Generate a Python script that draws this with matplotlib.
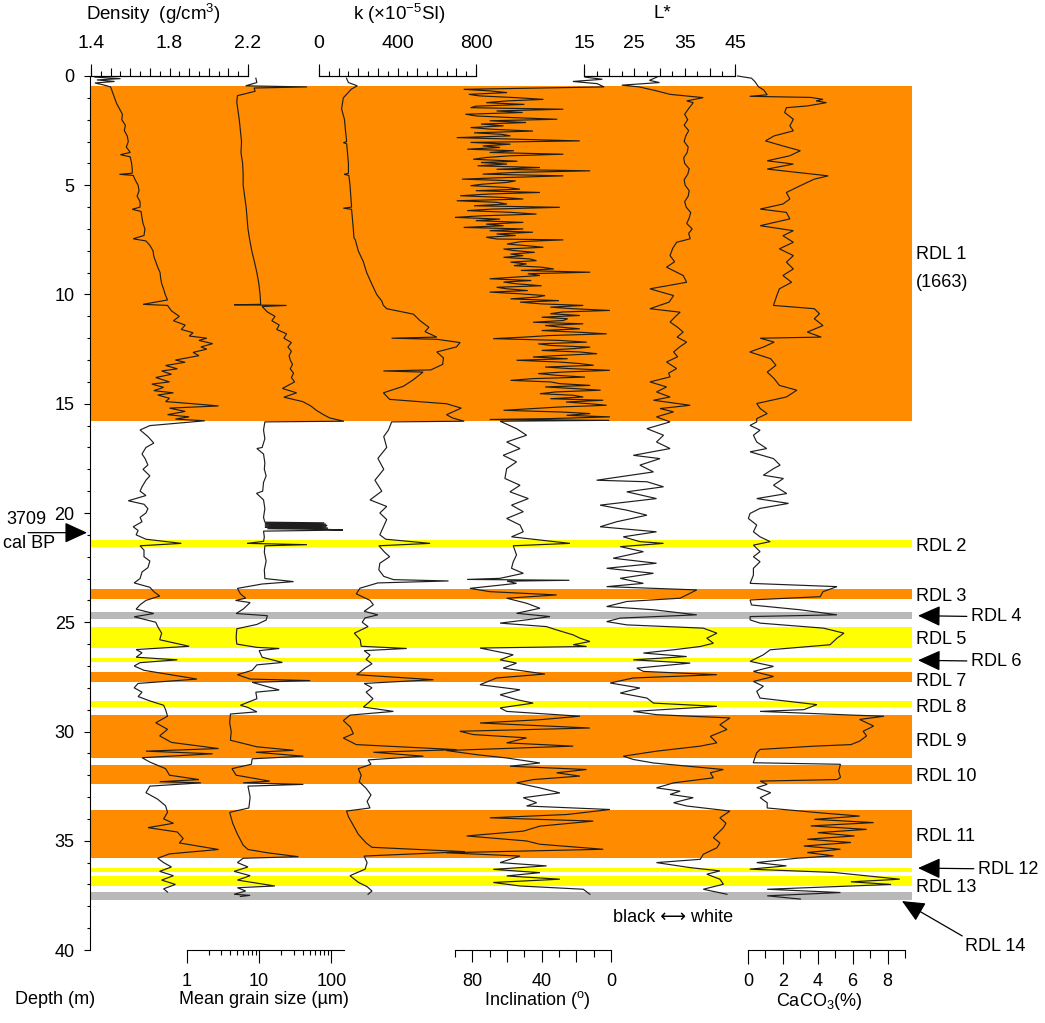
import numpy as np
import matplotlib
matplotlib.use('Agg')
import matplotlib.pyplot as plt
from matplotlib.ticker import MultipleLocator, FixedLocator, FuncFormatter, NullFormatter

plt.rcParams['font.family'] = ['Liberation Sans', 'DejaVu Sans']
plt.rcParams['mathtext.fontset'] = 'custom'
plt.rcParams['mathtext.rm'] = 'Liberation Sans'
plt.rcParams['mathtext.it'] = 'Liberation Sans:italic'
plt.rcParams['mathtext.bf'] = 'Liberation Sans:bold'

# ___ data: (depth m, value) ___
density = [
    (0.05, 1.42), (0.12, 1.55), (0.18, 1.43), (0.25, 1.52), (0.32, 1.42), (0.40, 1.46),
    (0.5, 1.50), (0.75, 1.51), (1.0, 1.52), (1.25, 1.53), (1.5, 1.545), (1.75, 1.56),
    (2.0, 1.557), (2.25, 1.575), (2.5, 1.57), (2.75, 1.585), (3.0, 1.59), (3.25, 1.58),
    (3.5, 1.60), (3.6, 1.55), (3.7, 1.60), (4.0, 1.607), (4.25, 1.61), (4.45, 1.61),
    (4.5, 1.545), (4.55, 1.615), (4.75, 1.625), (5.0, 1.64), (5.25, 1.645), (5.5, 1.635),
    (5.75, 1.65), (6.0, 1.65), (6.1, 1.61), (6.2, 1.655), (6.5, 1.66), (6.75, 1.665),
    (7.0, 1.675), (7.3, 1.67), (7.45, 1.615), (7.55, 1.68), (7.75, 1.70), (8.0, 1.716),
    (8.25, 1.72), (8.5, 1.73), (8.75, 1.74), (9.0, 1.752), (9.25, 1.755), (9.5, 1.76),
    (9.75, 1.77), (10.0, 1.778), (10.25, 1.79), (10.45, 1.665), (10.5, 1.79), (10.75, 1.81),
    (11.0, 1.85), (11.2, 1.82), (11.4, 1.88), (11.6, 1.86), (11.75, 1.92), (11.9, 1.90),
    (12.0, 1.99), (12.1, 1.95), (12.25, 2.02), (12.4, 1.96), (12.5, 1.99), (12.65, 1.92),
    (12.8, 1.95), (13.0, 1.83), (13.1, 1.88), (13.25, 1.78), (13.4, 1.84), (13.5, 1.76),
    (13.65, 1.81), (13.8, 1.73), (14.0, 1.80), (14.1, 1.71), (14.25, 1.77), (14.4, 1.72),
    (14.5, 1.82), (14.6, 1.74), (14.75, 1.80), (14.9, 1.78), (15.0, 1.92), (15.1, 2.05),
    (15.2, 1.80), (15.35, 1.88), (15.5, 1.79), (15.6, 1.90), (15.7, 1.83), (15.78, 1.98),
    (16.0, 1.70), (16.2, 1.65), (16.5, 1.69), (16.8, 1.72), (17.0, 1.68), (17.3, 1.66),
    (17.5, 1.675), (17.8, 1.69), (18.0, 1.665), (18.3, 1.70), (18.5, 1.68), (18.8, 1.66),
    (19.0, 1.65), (19.2, 1.68), (19.44, 1.59), (19.6, 1.67), (19.8, 1.69), (20.0, 1.68),
    (20.2, 1.65), (20.4, 1.66), (20.63, 1.615), (20.8, 1.64), (21.0, 1.63), (21.2, 1.68),
    (21.39, 1.86), (21.5, 1.65), (21.7, 1.67), (22.0, 1.67), (22.2, 1.70), (22.5, 1.69),
    (22.7, 1.66), (23.0, 1.65), (23.2, 1.62), (23.4, 1.70), (23.6, 1.72), (23.8, 1.75),
    (24.0, 1.68), (24.2, 1.65), (24.4, 1.63), (24.6, 1.72), (24.75, 1.62), (25.0, 1.73),
    (25.2, 1.74), (25.5, 1.76), (25.8, 1.75), (26.1, 1.90), (26.25, 1.63), (26.4, 1.66),
    (26.6, 1.63), (26.72, 1.84), (26.85, 1.65), (27.0, 1.62), (27.2, 1.67), (27.6, 1.94),
    (27.8, 1.64), (28.0, 1.62), (28.2, 1.66), (28.4, 1.64), (28.6, 1.70), (28.8, 1.77),
    (29.0, 1.78), (29.3, 1.79), (29.6, 1.73), (29.9, 1.79), (30.2, 1.75), (30.5, 1.81),
    (30.78, 2.05), (30.9, 1.68), (31.02, 2.02), (31.2, 1.66), (31.4, 1.70), (31.7, 1.78),
    (32.0, 1.80), (32.2, 1.95), (32.3, 1.75), (32.35, 1.96), (32.5, 1.70), (32.8, 1.68),
    (33.1, 1.74), (33.4, 1.78), (33.7, 1.79), (34.0, 1.77), (34.2, 1.82), (34.4, 1.69),
    (34.6, 1.84), (34.9, 1.87), (35.1, 1.85), (35.4, 2.05), (35.6, 1.80), (35.8, 1.74),
    (36.0, 1.77), (36.2, 1.81), (36.4, 1.75), (36.6, 1.82), (36.8, 1.76), (37.0, 1.83),
    (37.2, 1.77), (37.35, 1.79),
]

grain = [
    (0.1, 9.0), (0.3, 9.3), (0.45, 6.5), (0.5, 46), (0.55, 8.5), (0.7, 8.8), (0.9, 5.0),
    (1.2, 4.9), (1.6, 5.1), (2.0, 5.3), (2.5, 5.5), (3.0, 5.7), (3.5, 5.6), (4.0, 5.9),
    (4.5, 6.0), (5.0, 6.0), (5.5, 6.3), (6.0, 6.6), (6.5, 6.8), (7.0, 7.0), (7.5, 7.4),
    (8.0, 7.9), (8.5, 8.6), (9.0, 9.3), (9.5, 9.9), (10.0, 10.3), (10.45, 10.5),
    (10.47, 4.5), (10.5, 24), (10.55, 11.0), (10.8, 13), (11.0, 16.6), (11.2, 15),
    (11.4, 19), (11.6, 17.5), (11.8, 24), (12.0, 22), (12.2, 28), (12.4, 25), (12.6, 28),
    (12.8, 26), (13.0, 27), (13.2, 29), (13.4, 27), (13.6, 30), (13.8, 28), (14.0, 31),
    (14.3, 21), (14.5, 33), (14.7, 22), (14.9, 40), (15.1, 52), (15.3, 62), (15.5, 78),
    (15.65, 95), (15.75, 130), (15.8, 150), (15.83, 12), (16.2, 11.5), (16.6, 12),
    (17.0, 11), (17.05, 9.3), (17.3, 11.5), (17.7, 12), (18.0, 11.8), (18.3, 12.5),
    (18.6, 11.5), (19.0, 11.2), (19.1, 9.2), (19.4, 11.5), (19.8, 12), (20.2, 11.5),
    (20.42, 12), (20.45, 80), (20.48, 12), (20.51, 85), (20.54, 12), (20.57, 88),
    (20.6, 12), (20.63, 86), (20.66, 12), (20.69, 90), (20.72, 13), (20.75, 88),
    (20.78, 145), (20.83, 11.5), (21.1, 11.8), (21.3, 11.5), (21.39, 6.8), (21.45, 46),
    (21.5, 12), (21.8, 11.8), (22.2, 12.5), (22.6, 11.8), (23.0, 12), (23.14, 30),
    (23.25, 11), (23.45, 5.0), (23.7, 5.5), (23.9, 6.5), (24.0, 4.7), (24.1, 7.5),
    (24.4, 6.0), (24.6, 4.8), (24.7, 13), (24.9, 12.5), (25.1, 9.3), (25.3, 4.9),
    (25.7, 4.8), (26.0, 4.9), (26.15, 9.3), (26.2, 19), (26.3, 10), (26.6, 11),
    (26.84, 21), (26.95, 9.3), (27.2, 8), (27.4, 5.0), (27.6, 7.5), (27.67, 51),
    (27.75, 8), (28.1, 19), (28.2, 9.0), (28.5, 9.3), (28.8, 5.5), (28.9, 7), (29.1, 9.3),
    (29.2, 4.0), (29.6, 3.9), (30.0, 4.1), (30.4, 4.0), (30.7, 9.3), (30.86, 30),
    (30.95, 9), (31.13, 41), (31.25, 8), (31.5, 7.8), (31.7, 4.2), (32.0, 4.8),
    (32.27, 14), (32.35, 6), (32.42, 41), (32.5, 7), (33.0, 7.5), (33.5, 7.2), (33.7, 3.9),
    (34.2, 4.3), (34.7, 5), (35.2, 6), (35.4, 7), (35.55, 13), (35.73, 35), (35.8, 6),
    (36.0, 5), (36.2, 7), (36.4, 4.5), (36.6, 7.5), (36.8, 5), (37.07, 16.5), (37.15, 5),
    (37.3, 6.5), (37.45, 4.5), (37.5, 7.5), (37.55, 5.5),
]

suscept = [
    (0.1, 140), (0.3, 150), (0.45, 195), (0.6, 165), (1.0, 124), (1.5, 115), (2.0, 130),
    (2.5, 135), (3.0, 141), (3.05, 124), (3.1, 141), (3.5, 145), (4.0, 150), (4.45, 150),
    (4.5, 128), (4.55, 152), (5.0, 158), (5.5, 162), (6.0, 166), (6.05, 124), (6.1, 166),
    (6.5, 170), (7.0, 175), (7.4, 178), (7.5, 185), (8.0, 200), (8.5, 226), (9.0, 243),
    (9.5, 268), (10.0, 294), (10.3, 320), (10.5, 328), (10.65, 345), (10.9, 481),
    (11.2, 515), (11.5, 560), (11.7, 540), (11.95, 600), (12.0, 370), (12.05, 600),
    (12.2, 719), (12.4, 700), (12.63, 600), (12.9, 634), (13.2, 630), (13.45, 570),
    (13.5, 328), (13.55, 530), (13.9, 481), (14.2, 430), (14.5, 328), (14.8, 360),
    (15.0, 650), (15.2, 725), (15.5, 650), (15.65, 680), (15.75, 720), (15.8, 740),
    (15.83, 370), (16.2, 354), (16.5, 330), (17.0, 345), (17.5, 300), (18.0, 330),
    (18.5, 285), (19.0, 320), (19.4, 260), (19.7, 345), (20.0, 310), (20.3, 345),
    (20.6, 330), (21.0, 310), (21.2, 340), (21.39, 566), (21.5, 305), (21.8, 335),
    (22.0, 360), (22.3, 310), (22.6, 305), (22.9, 330), (23.05, 380), (23.11, 660),
    (23.2, 300), (23.44, 209), (23.7, 190), (24.0, 260), (24.2, 277), (24.5, 230),
    (24.66, 300), (24.8, 235), (25.0, 220), (25.2, 250), (25.5, 180), (25.8, 210),
    (26.1, 215), (26.2, 447), (26.3, 230), (26.5, 260), (26.7, 240), (26.9, 270),
    (27.1, 235), (27.4, 192), (27.63, 583), (27.8, 230), (28.0, 270), (28.2, 240),
    (28.5, 275), (28.7, 250), (28.88, 226), (29.08, 379), (29.25, 158), (29.5, 124),
    (29.8, 160), (30.1, 175), (30.3, 124), (30.6, 190), (30.83, 702), (30.95, 277),
    (31.13, 532), (31.3, 250), (31.5, 265), (31.7, 200), (32.0, 215), (32.3, 205),
    (32.6, 240), (32.9, 265), (33.2, 245), (33.5, 260), (33.64, 140), (33.9, 150),
    (34.3, 175), (34.7, 200), (35.1, 240), (35.3, 270), (35.5, 744), (35.7, 230),
    (36.0, 245), (36.3, 235), (36.6, 158), (36.9, 200), (37.1, 245), (37.3, 270),
    (37.45, 250),
]

inclination = [
    (0.05, 15), (0.15, 5), (0.25, 22), (0.35, 8), (0.5, 4), (0.61, 85), (0.68, 70),
    (0.76, 60), (0.84, 82), (0.91, 76), (0.99, 55), (1.07, 39), (1.14, 60), (1.22, 72),
    (1.3, 50), (1.38, 78), (1.45, 81), (1.52, 27.5), (1.6, 66), (1.67, 51), (1.75, 84),
    (1.83, 77.5), (1.9, 58), (1.98, 31), (2.05, 70), (2.13, 49), (2.2, 75), (2.28, 62),
    (2.36, 81), (2.44, 68), (2.52, 45), (2.6, 79), (2.67, 63), (2.74, 58), (2.82, 89),
    (2.9, 52), (2.97, 18), (3.04, 81), (3.12, 58), (3.2, 74), (3.27, 64), (3.35, 83),
    (3.42, 56), (3.5, 70), (3.58, 27.5), (3.65, 58), (3.73, 72), (3.81, 79.5), (3.9, 54),
    (3.96, 75), (4.03, 60), (4.11, 77), (4.19, 41), (4.27, 66), (4.34, 12), (4.41, 54.5),
    (4.49, 74), (4.57, 27.5), (4.65, 62), (4.72, 86), (4.8, 55), (4.87, 60), (4.95, 74),
    (5.02, 81), (5.1, 60), (5.18, 52.5), (5.25, 78), (5.33, 41), (5.4, 70), (5.48, 87),
    (5.56, 62), (5.63, 50.6), (5.71, 89), (5.78, 66), (5.86, 60), (5.94, 79), (6.01, 29.5),
    (6.09, 68), (6.16, 83), (6.24, 58), (6.32, 43), (6.4, 75), (6.47, 90), (6.55, 64),
    (6.62, 78), (6.70, 50.6), (6.78, 72), (6.85, 62), (6.93, 85), (7.00, 50.6), (7.08, 70),
    (7.15, 45), (7.23, 66), (7.3, 55), (7.38, 72), (7.46, 66), (7.50, 27.5), (7.58, 52),
    (7.69, 60), (7.77, 48), (7.84, 39), (7.92, 62), (7.99, 56), (8.07, 44), (8.15, 58),
    (8.22, 50.6), (8.3, 62), (8.37, 47), (8.45, 43), (8.52, 58), (8.60, 48.7), (8.68, 56),
    (8.75, 40), (8.83, 33), (8.9, 52), (8.98, 12), (9.05, 48), (9.13, 41), (9.2, 55),
    (9.28, 70), (9.36, 46), (9.43, 62), (9.51, 54.5), (9.6, 40), (9.67, 66), (9.74, 60),
    (9.82, 48), (9.89, 70), (9.97, 52), (10.05, 38), (10.12, 43), (10.2, 58), (10.28, 30),
    (10.35, 52.5), (10.43, 40), (10.50, 16), (10.58, 35), (10.65, 22), (10.73, 0.6),
    (10.8, 28), (10.88, 35), (10.96, 18), (11.04, 40), (11.11, 25), (11.19, 27.5),
    (11.27, 45), (11.34, 16), (11.42, 38), (11.49, 29.5), (11.57, 18), (11.65, 40),
    (11.72, 20), (11.80, 2.5), (11.88, 36), (11.95, 50), (12.02, 68), (12.1, 30),
    (12.18, 14), (12.26, 42), (12.33, 35), (12.41, 12), (12.48, 22), (12.56, 40),
    (12.63, 18), (12.71, 8), (12.79, 30), (12.86, 45), (12.94, 25), (13.01, 54.5),
    (13.09, 30), (13.16, 18), (13.24, 10), (13.32, 38), (13.39, 24), (13.47, 0.6),
    (13.55, 28), (13.62, 42), (13.70, 31), (13.78, 15), (13.85, 45), (13.93, 58),
    (14.0, 35), (14.08, 29.5), (14.16, 12), (14.23, 38), (14.31, 20), (14.38, 6),
    (14.46, 32), (14.54, 41), (14.61, 22), (14.69, 16), (14.77, 35), (14.84, 4.5),
    (14.92, 26), (15.0, 12), (15.07, 2.5), (15.15, 30), (15.22, 45), (15.30, 62),
    (15.38, 28), (15.45, 12), (15.53, 25.6), (15.60, 0.6), (15.68, 35), (15.72, 70),
    (15.76, 1), (15.8, 64), (16.14, 54.5), (16.44, 48.7), (16.75, 60.2), (17.05, 52.5),
    (17.36, 62.2), (17.66, 54.5), (17.97, 60.2), (18.42, 61.2), (18.73, 52.5), (19.03, 58.3),
    (19.34, 47.7), (19.64, 57.4), (19.94, 50.6), (20.25, 60.2), (20.55, 52.5), (20.86, 50.6),
    (21.09, 57.4), (21.39, 23.7), (21.5, 56.4), (21.92, 54.5), (22.23, 56.4), (22.53, 57.4),
    (22.76, 50.6), (22.99, 64), (23.04, 83), (23.08, 24), (23.12, 60), (23.22, 54.5),
    (23.45, 81.4), (23.6, 69.9), (23.75, 31.4), (23.9, 60.2), (24.13, 48.7), (24.36, 41),
    (24.59, 54.5), (24.74, 35.2), (24.89, 48.7), (25.04, 64), (25.2, 37.2), (25.35, 31.4),
    (25.58, 21.8), (25.73, 17.9), (25.88, 12.2), (26.03, 21.8), (26.11, 14.1), (26.18, 75.6),
    (26.49, 56.4), (26.72, 64), (26.87, 54.5), (27.1, 62.2), (27.37, 38.1), (27.55, 66),
    (27.86, 75.6), (28.09, 52.5), (28.32, 64), (28.54, 54.5), (28.7, 44.9), (28.92, 64),
    (29.08, 60.2), (29.3, 17.9), (29.46, 41), (29.61, 75.6), (29.84, 12.2), (29.99, 87.2),
    (30.14, 79.5), (30.29, 48.7), (30.52, 60.2), (30.67, 21.8), (30.87, 95), (31.06, 77.5),
    (31.21, 60.2), (31.44, 41), (31.59, 58.3), (31.74, 14.1), (31.89, 31.4), (32.04, 17.9),
    (32.2, 44.9), (32.35, 54.5), (32.58, 41), (32.81, 29.5), (33.03, 50.6), (33.26, 42.9),
    (33.41, 48.7), (33.57, 0.6), (33.8, 25.6), (33.95, 69.9), (34.1, 10.2), (34.33, 41),
    (34.56, 50.6), (34.78, 83.3), (35.01, 48.7), (35.16, 41), (35.39, 4.5), (35.55, 95),
    (35.7, 52.5), (36.0, 64), (36.15, 37.2), (36.31, 67.9), (36.46, 41), (36.61, 60.2),
    (36.76, 29.5), (36.91, 67.9), (37.07, 52.5), (37.22, 16), (37.45, 12.2),
]

lightness = [
    (0.05, 29.5), (0.2, 28), (0.3, 30), (0.42, 22.5), (0.5, 26), (0.68, 29.4), (0.84, 32.1),
    (0.99, 38.7), (1.14, 35.4), (1.22, 36.7), (1.52, 35.7), (1.75, 35.0), (2.0, 35.6),
    (2.25, 34.9), (2.5, 35.8), (2.75, 35.2), (3.0, 34.9), (3.25, 35.7), (3.5, 35.5),
    (3.75, 34.8), (4.0, 35.0), (4.25, 35.9), (4.5, 35.6), (4.75, 34.9), (5.0, 35.1),
    (5.25, 35.9), (5.5, 35.7), (5.75, 35.0), (6.0, 35.3), (6.25, 36.2), (6.5, 35.9),
    (6.75, 35.4), (7.0, 36.5), (7.2, 35.8), (7.45, 36.1), (7.61, 33.4), (7.9, 32.6),
    (8.22, 32.1), (8.5, 33.0), (8.75, 31.4), (9.13, 34.7), (9.44, 35.4), (9.74, 28.1),
    (10.05, 32.8), (10.35, 31.9), (10.65, 28.1), (10.81, 34.1), (11.0, 33.2), (11.26, 32.1),
    (11.5, 33.6), (11.72, 34.7), (11.95, 33.5), (12.18, 35.4), (12.4, 34.0), (12.63, 32.8),
    (12.85, 33.6), (13.09, 31.4), (13.39, 33.4), (13.6, 31.8), (13.77, 32.1), (14.0, 28.1),
    (14.23, 31.4), (14.46, 29.4), (14.69, 32.1), (14.84, 28.8), (15.07, 36.1), (15.22, 30.1),
    (15.37, 32.8), (15.6, 29.4), (15.83, 32.1), (16.14, 27.5), (16.44, 30.8), (16.75, 29.4),
    (17.05, 32.1), (17.36, 24.8), (17.51, 30.1), (17.81, 26.1), (18.12, 28.8), (18.5, 17.5),
    (18.57, 27.5), (18.8, 30.8), (19.03, 23.5), (19.34, 29.4), (19.64, 18.2), (19.87, 23.5),
    (20.1, 27.5), (20.4, 21.5), (20.63, 18.2), (20.86, 29.4), (21.09, 22.8), (21.31, 26.1),
    (21.39, 30.8), (21.54, 22.2), (21.77, 26.8), (22.07, 20.8), (22.3, 29.4), (22.53, 19.5),
    (22.76, 28.8), (22.99, 22.2), (23.22, 26.8), (23.37, 19.5), (23.52, 37.4), (23.75, 35.4),
    (23.9, 34.1), (24.05, 23.5), (24.28, 19.5), (24.43, 28.8), (24.66, 37.4), (24.81, 22.2),
    (24.97, 19.5), (25.12, 23.5), (25.27, 38.7), (25.5, 41.4), (25.73, 39.4), (25.96, 40.7),
    (26.11, 38.1), (26.26, 32.8), (26.41, 26.8), (26.57, 35.4), (26.72, 24.8), (26.87, 36.1),
    (27.1, 25.5), (27.25, 26.8), (27.4, 41.4), (27.55, 24.8), (27.78, 20.2), (28.01, 26.1),
    (28.24, 22.2), (28.47, 27.5), (28.7, 28.8), (28.85, 41.4), (29.08, 24.8), (29.23, 29.4),
    (29.38, 44.0), (29.69, 42.0), (29.91, 43.4), (30.22, 40.1), (30.52, 41.4), (30.67, 38.1),
    (30.9, 29.4), (31.13, 22.8), (31.28, 24.8), (31.44, 28.8), (31.74, 42.7), (31.89, 40.1),
    (32.12, 40.7), (32.35, 32.8), (32.58, 29.4), (32.73, 34.1), (32.88, 32.1), (33.03, 36.7),
    (33.26, 32.8), (33.41, 35.4), (33.64, 44.0), (33.95, 42.0), (34.2, 43.2), (34.4, 42.7),
    (34.65, 41.6), (34.86, 40.7), (35.1, 42.0), (35.32, 41.4), (35.62, 38.7), (35.85, 38.1),
    (36.0, 29.4), (36.23, 36.1), (36.38, 42.0), (36.53, 39.4), (36.76, 42.0), (36.99, 42.7),
    (37.22, 38.7), (37.45, 43.4),
]

caco3 = [
    (0.0, -0.6), (0.1, 0.2), (0.26, 0.4), (0.49, 0.6), (0.64, 0.9), (0.86, 1.1), (0.93, 0.1),
    (0.98, 3.6), (1.07, 4.3), (1.14, 3.9), (1.22, 4.5), (1.37, 3.4), (1.45, 2.2), (1.67, 2.1),
    (1.98, 2.6), (2.28, 2.4), (2.51, 2.6), (2.74, 1.5), (2.97, 1.0), (3.2, 2.0), (3.42, 3.0),
    (3.65, 2.4), (3.88, 1.1), (4.03, 2.6), (4.26, 1.1), (4.41, 2.8), (4.57, 4.6), (4.72, 3.8),
    (5.02, 3.0), (5.33, 2.2), (5.63, 2.4), (5.86, 2.0), (6.09, 0.7), (6.24, 2.2), (6.54, 2.4),
    (6.85, 0.7), (7.08, 2.6), (7.31, 2.0), (7.61, 2.6), (7.91, 1.8), (8.22, 2.6), (8.52, 2.2),
    (8.83, 2.6), (9.13, 2.0), (9.44, 2.5), (9.74, 1.8), (10.05, 1.65), (10.5, 1.46),
    (10.65, 3.8), (10.88, 4.1), (11.11, 3.8), (11.42, 4.3), (11.72, 3.4), (11.95, 4.2),
    (12.0, 0.7), (12.18, 1.5), (12.4, 0.9), (12.63, 0.1), (12.94, 1.3), (13.24, 1.6),
    (13.55, 1.1), (13.85, 1.5), (14.16, 1.8), (14.38, 2.8), (14.69, 2.2), (14.99, 0.5),
    (15.22, 0.7), (15.45, 1.1), (15.68, 0.5), (15.83, 0.5), (15.99, 0.12), (16.21, 0.69),
    (16.44, 0.31), (16.75, 0.5), (17.05, 1.07), (17.2, 0.12), (17.51, 1.46), (17.81, 1.84),
    (17.97, 1.46), (18.27, 0.88), (18.42, 2.03), (18.73, 1.46), (19.11, 2.22), (19.34, 0.5),
    (19.56, 2.32), (19.79, 0.69), (20.02, 0.12), (20.25, 0.02), (20.55, 0.5), (20.86, 0.31),
    (21.09, 0.69), (21.31, 1.27), (21.47, 0.31), (21.77, 0.69), (22.0, 0.31), (22.23, 0.69),
    (22.53, 0.31), (22.84, 0.31), (23.22, 0.12), (23.37, 5.1), (23.6, 4.3), (23.83, 4.14),
    (23.98, 0.12), (24.21, 0.2), (24.43, 3.0), (24.66, 5.1), (24.74, 0.12), (24.89, 0.12),
    (25.04, 0.69), (25.27, 4.33), (25.5, 5.5), (25.73, 5.1), (26.03, 4.7), (26.26, 1.27),
    (26.49, 0.88), (26.79, 0.12), (27.02, 1.46), (27.25, 0.31), (27.48, 1.46), (27.71, 0.31),
    (27.93, 0.88), (28.16, 0.5), (28.47, 0.69), (28.77, 3.95), (29.0, 3.2), (29.08, 0.69),
    (29.25, 6.0), (29.3, 7.8), (29.45, 6.4), (29.75, 7.2), (29.99, 6.6), (30.2, 6.8),
    (30.44, 6.4), (30.6, 5.9), (30.67, 3.8), (30.82, 0.7), (30.97, 0.5), (31.43, 0.3),
    (31.5, 5.3), (31.8, 5.2), (32.1, 5.3), (32.2, 5.1), (32.27, 0.7), (32.42, 1.1),
    (32.57, 0.5), (32.8, 1.3), (33.03, 0.7), (33.26, 1.1), (33.5, 1.1), (33.64, 3.0),
    (33.72, 4.1), (33.87, 6.4), (34.02, 3.8), (34.17, 7.2), (34.32, 3.6), (34.48, 6.8),
    (34.63, 4.0), (34.78, 6.1), (34.93, 3.4), (35.08, 5.9), (35.24, 3.2), (35.39, 5.3),
    (35.54, 3.4), (35.69, 4.9), (35.8, 2.8), (36.0, 0.5), (36.15, 2.2), (36.3, 0.1),
    (36.45, 4.9), (36.76, 8.7), (36.88, 5.9), (37.0, 8.2), (37.22, 1.1), (37.37, 5.3),
    (37.52, 1.1), (37.67, 3.0),
]

# layers: (top m, bottom m, colour, label, label depth, arrow?)
layers = [
    (0.45, 15.78, 'orange', None, None, False),
    (21.23, 21.57, 'yellow', 'RDL 2', 21.55, False),
    (23.48, 23.93, 'orange', 'RDL 3', 23.8, False),
    (24.53, 24.83, 'gray', 'RDL 4', 24.75, True),
    (25.24, 26.16, 'yellow', 'RDL 5', 25.8, False),
    (26.63, 26.83, 'yellow', 'RDL 6', 26.79, True),
    (27.27, 27.75, 'orange', 'RDL 7', 27.73, False),
    (28.62, 28.89, 'yellow', 'RDL 8', 28.92, False),
    (29.25, 31.2, 'orange', 'RDL 9', 30.44, False),
    (31.54, 32.4, 'orange', 'RDL 10', 32.04, False),
    (33.6, 35.81, 'orange', 'RDL 11', 34.81, False),
    (36.24, 36.45, 'yellow', 'RDL 12', 36.3, True),
    (36.6, 37.09, 'yellow', 'RDL 13', 37.12, False),
    (37.34, 37.7, 'gray', None, None, False),
]
colours = {'orange': '#FF8C00', 'yellow': '#FFFF00', 'gray': '#B9B9B9'}

# ___ figure, laid out in pixels ___
W, H = 1045, 1023
Y_TOP, Y_BOT = 76, 950
fig = plt.figure(figsize=(W / 100, H / 100), dpi=100)
LC = '#1e1e1e'
LW = 0.85


def rect(x0, x1):
    return [x0 / W, 1 - Y_BOT / H, (x1 - x0) / W, (Y_BOT - Y_TOP) / H]


def ftext(x, y, s, **kw):
    fig.text(x / W, 1 - y / H, s, **kw)


# background: layers + depth axis
ax0 = fig.add_axes(rect(90, 912))
ax0.set_xlim(0, 1)
ax0.set_ylim(40, 0)
for top, bot, c, lab, ly, arrow in layers:
    ax0.axhspan(top, bot, color=colours[c], lw=0)
for s in ['top', 'right', 'bottom']:
    ax0.spines[s].set_visible(False)
ax0.spines['left'].set_linewidth(0.8)
ax0.xaxis.set_visible(False)
ax0.yaxis.set_major_locator(MultipleLocator(5))
ax0.yaxis.set_minor_locator(MultipleLocator(1))
ax0.tick_params(axis='y', which='major', length=4, width=0.8, pad=7, labelsize=13)
ax0.tick_params(axis='y', which='minor', length=2.2, width=0.8)

tr = ax0.get_yaxis_transform()


def fx(px):
    return (px - 90) / 822


arrow_kw = dict(arrowstyle='-|>,head_length=0.7,head_width=0.32', color='black',
                lw=0.9, shrinkB=0, mutation_scale=20)

for top, bot, c, lab, ly, arrow in layers:
    if lab is None:
        continue
    if arrow:
        xt = 978 if lab == 'RDL 12' else 971
        ax0.annotate(lab, xy=(fx(918), ly - 0.05), xytext=(fx(xt), ly), xycoords=tr,
                     textcoords=tr, va='center', ha='left', fontsize=13,
                     arrowprops=dict(arrow_kw, shrinkA=1))
    else:
        ax0.text(fx(916), ly, lab, transform=tr, va='center', ha='left', fontsize=13)

ax0.text(fx(916), (255 - Y_TOP) / 21.85, 'RDL 1', transform=tr, va='center', ha='left', fontsize=13)
ax0.text(fx(916), (283 - Y_TOP) / 21.85, '(1663)', transform=tr, va='center', ha='left', fontsize=13)
ax0.annotate('RDL 14', xy=(fx(902), 37.76), xytext=(fx(965), 39.82), xycoords=tr,
             textcoords=tr, va='center', ha='left', fontsize=13,
             arrowprops=dict(arrow_kw, shrinkA=0, relpos=(0, 1)))
ax0.annotate('', xy=(fx(87), 20.9), xytext=(fx(28), 20.9), xycoords=tr, textcoords=tr,
             arrowprops=dict(arrow_kw, shrinkA=0))
ax0.annotate('3709', xy=(fx(26), (520 - Y_TOP) / 21.85), xycoords=tr, annotation_clip=False,
             ha='center', va='center', fontsize=13)
ax0.annotate('cal BP', xy=(fx(29), (543 - Y_TOP) / 21.85), xycoords=tr, annotation_clip=False,
             ha='center', va='center', fontsize=13)
ax0.annotate('black \u27f7 white', xy=(fx(673), 38.49), xycoords=tr, annotation_clip=False,
             ha='center', va='center', fontsize=13)


def track(x0, x1, lim, side, log=False):
    ax = fig.add_axes(rect(x0, x1))
    if log:
        ax.set_xscale('log')
    ax.set_xlim(*lim)
    ax.set_ylim(40, 0)
    ax.patch.set_visible(False)
    for s in ax.spines:
        ax.spines[s].set_visible(s == side)
    ax.spines[side].set_linewidth(0.8)
    ax.yaxis.set_visible(False)
    ax.xaxis.set_ticks_position(side)
    return ax


def only(labels, fmt):
    return FuncFormatter(lambda v, p: fmt.format(v) if any(abs(v - t) < 1e-6 for t in labels) else '')


def draw(ax, data):
    d, v = np.array(data).T
    ax.plot(v, d, color=LC, lw=LW, clip_on=False, solid_joinstyle='miter')


def top_scale(ax, major, minor, labels, fmt, ends):
    ax.xaxis.set_major_locator(MultipleLocator(major))
    ax.xaxis.set_minor_locator(MultipleLocator(minor))
    ax.xaxis.set_major_formatter(only(labels, fmt))
    ax.xaxis.set_minor_formatter(NullFormatter())
    ax.tick_params(axis='x', which='major', length=6, width=0.8, pad=11, labelsize=14)
    ax.tick_params(axis='x', which='minor', length=3.6, width=0.8)
    sec = ax.secondary_xaxis('top')
    sec.set_xticks(ends)
    sec.set_xticklabels([''] * len(ends))
    sec.tick_params(length=8.6, width=0.8)
    sec.spines['top'].set_linewidth(0.8)


ax_d = track(91, 248, (1.4, 2.2), 'top')
top_scale(ax_d, 0.1, 0.05, [1.4, 1.8, 2.2], '{:.1f}', [1.4, 2.2])
draw(ax_d, density)

ax_k = track(319, 476, (0, 800), 'top')
top_scale(ax_k, 100, 50, [0, 400, 800], '{:.0f}', [0, 800])
draw(ax_k, suscept)

ax_l = track(584, 735, (15, 45), 'top')
top_scale(ax_l, 5, 2.5, [15, 25, 35, 45], '{:.0f}', [15, 45])
draw(ax_l, lightness)

ax_g = track(187, 344, (1, 150), 'bottom', log=True)
ax_g.xaxis.set_major_locator(FixedLocator([1, 10, 100]))
ax_g.xaxis.set_minor_locator(FixedLocator([2, 3, 4, 5, 6, 7, 8, 9, 20, 30, 40, 50, 60, 70, 80, 90]))
ax_g.xaxis.set_major_formatter(FuncFormatter(lambda v, p: f'{v:.0f}'))
ax_g.xaxis.set_minor_formatter(NullFormatter())
ax_g.tick_params(axis='x', which='major', length=9.4, width=0.8, pad=7, labelsize=13)
ax_g.tick_params(axis='x', which='minor', length=3.6, width=0.8)
draw(ax_g, grain)

ax_i = track(455, 611, (90, 0), 'bottom')
ax_i.xaxis.set_major_locator(FixedLocator([0, 20, 40, 60, 80]))
ax_i.xaxis.set_minor_locator(FixedLocator([10, 30, 50, 70, 90]))
ax_i.xaxis.set_major_formatter(only([0, 40, 80], '{:.0f}'))
ax_i.tick_params(axis='x', which='major', length=8.6, width=0.8, pad=8, labelsize=13)
ax_i.tick_params(axis='x', which='minor', length=5, width=0.8)
draw(ax_i, inclination)

ax_c = track(748, 905, (0, 9), 'bottom')
ax_c.xaxis.set_major_locator(MultipleLocator(2))
ax_c.xaxis.set_minor_locator(MultipleLocator(1))
ax_c.xaxis.set_major_formatter(FuncFormatter(lambda v, p: f'{v:.0f}'))
ax_c.tick_params(axis='x', which='major', length=10, width=0.8, pad=6.5, labelsize=13)
ax_c.tick_params(axis='x', which='minor', length=5.8, width=0.8)
draw(ax_c, caco3)

# scale titles
ftext(86, 14, 'Density  (g/cm$^3$)', ha='left', va='center', fontsize=13.5)
ftext(400, 14, 'k (\u00d710$^{-5}$SI)', ha='center', va='center', fontsize=13.5)
ftext(662, 14, 'L*', ha='center', va='center', fontsize=13.5)
ftext(15, 1000, 'Depth (m)', ha='left', va='center', fontsize=13)
ftext(264, 1000, 'Mean grain size (\u00b5m)', ha='center', va='center', fontsize=13)
ftext(537, 1000, 'Inclination ($^{\\mathrm{o}}$)', ha='center', va='center', fontsize=13)
ftext(819, 1001, 'CaCO$_3$(%)', ha='center', va='center', fontsize=13)

fig.savefig('out.png', dpi=100)
